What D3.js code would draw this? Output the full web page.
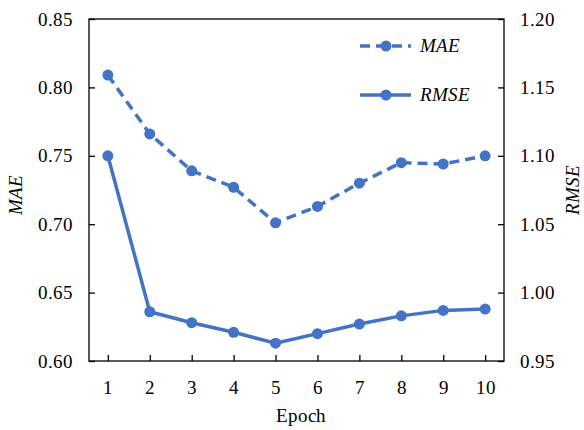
<!DOCTYPE html>
<html>
<head>
<meta charset="utf-8">
<script src="https://cdnjs.cloudflare.com/ajax/libs/d3/7.8.5/d3.min.js"></script>
<style>
  @font-face { font-family: "ChartSerif"; src: local("Liberation Serif"), local("LiberationSerif"); font-style: normal; }
  @font-face { font-family: "ChartSerif"; src: local("Liberation Serif Italic"), local("LiberationSerif-Italic"); font-style: italic; }
</style>
</head>
<body style="margin:0">
<svg id="chart" width="584" height="430" font-family="ChartSerif, Liberation Serif"></svg>
<script>
// data
var epochs = [1, 2, 3, 4, 5, 6, 7, 8, 9, 10];
var maeValues = [0.809, 0.766, 0.739, 0.727, 0.701, 0.713, 0.730, 0.745, 0.744, 0.750];
var rmseValues = [1.100, 0.986, 0.978, 0.971, 0.963, 0.970, 0.977, 0.983, 0.987, 0.988];
var leftTicks = [0.60, 0.65, 0.70, 0.75, 0.80, 0.85];
var rightTicks = [0.95, 1.00, 1.05, 1.10, 1.15, 1.20];

var svg = d3.select("#chart"),
    margin = { top: 19, right: 80, bottom: 69, left: 89 },
    width = +svg.attr("width") - margin.left - margin.right,
    height = +svg.attr("height") - margin.top - margin.bottom;

var color = "#4472c4";
var font = "ChartSerif, Liberation Serif";

var x = d3.scaleLinear().domain([0.55, 10.45]).range([0, width]);
var yLeft = d3.scaleLinear().domain([0.60, 0.85]).range([height, 0]);
var yRight = d3.scaleLinear().domain([0.95, 1.20]).range([height, 0]);

// axis titles
svg.append("text")
    .attr("x", 301).attr("y", 422)
    .attr("font-family", font).attr("font-size", 19)
    .attr("text-anchor", "middle")
    .text("Epoch");

svg.append("text")
    .attr("transform", "translate(22,195) rotate(-90)")
    .attr("font-family", font).attr("font-size", 19)
    .attr("font-style", "italic")
    .attr("text-anchor", "middle")
    .text("MAE");

svg.append("text")
    .attr("transform", "translate(579,190) rotate(-90)")
    .attr("font-family", font).attr("font-size", 19)
    .attr("font-style", "italic")
    .attr("text-anchor", "middle")
    .text("RMSE");

var g = svg.append("g").attr("transform", "translate(" + margin.left + "," + margin.top + ")");

// frame
g.append("rect")
    .attr("width", width)
    .attr("height", height)
    .attr("fill", "none")
    .attr("stroke", "#000")
    .attr("stroke-width", 1.3);

// axes, ticks pointing inward
var xAxis = g.append("g")
    .attr("transform", "translate(0," + height + ")");
xAxis.call(d3.axisBottom(x).tickValues(epochs).tickSize(-6).tickPadding(20).tickFormat(d3.format("d")));

var leftAxis = g.append("g");
leftAxis.call(d3.axisLeft(yLeft).tickValues(leftTicks).tickSize(-6).tickPadding(16).tickFormat(d3.format(".2f")));

var rightAxis = g.append("g")
    .attr("transform", "translate(" + width + ",0)");
rightAxis.call(d3.axisRight(yRight).tickValues(rightTicks).tickSize(-6).tickPadding(16).tickFormat(d3.format(".2f")));

[xAxis, leftAxis, rightAxis].forEach(function (a) {
    a.attr("font-family", font).attr("font-size", 19);
    a.select(".domain").remove();
    a.selectAll("line").attr("stroke", "#000").attr("stroke-width", 1.3);
});

// lines
var maeLine = d3.line()
    .x(function (d, i) { return x(epochs[i]); })
    .y(function (d) { return yLeft(d); });

var rmseLine = d3.line()
    .x(function (d, i) { return x(epochs[i]); })
    .y(function (d) { return yRight(d); });

g.append("path")
    .datum(maeValues)
    .attr("d", maeLine)
    .attr("fill", "none")
    .attr("stroke", color)
    .attr("stroke-width", 3.5)
    .attr("stroke-dasharray", "10,6");

g.append("path")
    .datum(rmseValues)
    .attr("d", rmseLine)
    .attr("fill", "none")
    .attr("stroke", color)
    .attr("stroke-width", 3.5);

g.selectAll(".mae-dot")
    .data(maeValues)
    .enter().append("circle")
    .attr("class", "mae-dot")
    .attr("cx", function (d, i) { return x(epochs[i]); })
    .attr("cy", function (d) { return yLeft(d); })
    .attr("r", 5.5)
    .attr("fill", color);

g.selectAll(".rmse-dot")
    .data(rmseValues)
    .enter().append("circle")
    .attr("class", "rmse-dot")
    .attr("cx", function (d, i) { return x(epochs[i]); })
    .attr("cy", function (d) { return yRight(d); })
    .attr("r", 5.5)
    .attr("fill", color);

// legend
var legend = svg.append("g").attr("transform", "translate(360,0)");
var items = [
    { name: "MAE", dash: "10,6", y: 46 },
    { name: "RMSE", dash: null, y: 95 }
];
items.forEach(function (it) {
    legend.append("line")
        .attr("x1", 0).attr("x2", 51)
        .attr("y1", it.y).attr("y2", it.y)
        .attr("stroke", color)
        .attr("stroke-width", 3.5)
        .attr("stroke-dasharray", it.dash);
    legend.append("circle")
        .attr("cx", 26).attr("cy", it.y).attr("r", 5.5).attr("fill", color);
    legend.append("text")
        .attr("x", 60).attr("y", it.y + 6)
        .attr("font-family", font).attr("font-size", 19)
        .attr("font-style", "italic")
        .text(it.name);
});
</script>
</body>
</html>
